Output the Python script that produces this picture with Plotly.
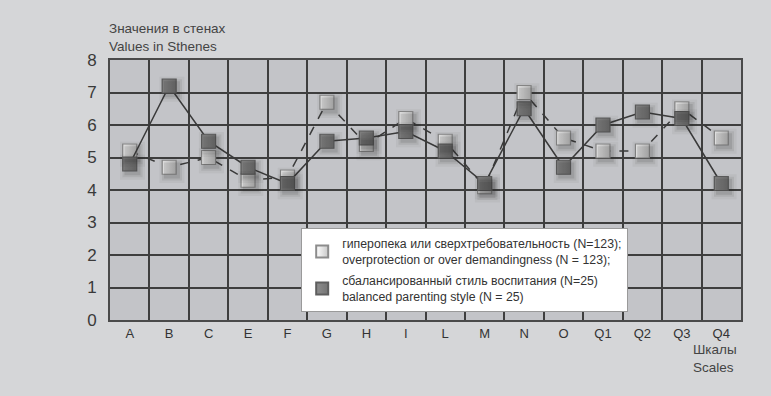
import plotly.graph_objects as go

categories = ["A", "B", "C", "E", "F", "G", "H", "I", "L", "M", "N", "O", "Q1", "Q2", "Q3", "Q4"]
overprotection = [5.2, 4.7, 5.0, 4.3, 4.4, 6.7, 5.4, 6.2, 5.5, 4.1, 7.0, 5.6, 5.2, 5.2, 6.5, 5.6]
balanced = [4.8, 7.2, 5.5, 4.7, 4.2, 5.5, 5.6, 5.8, 5.2, 4.2, 6.5, 4.7, 6.0, 6.4, 6.2, 4.2]
y_ticks = [0, 1, 2, 3, 4, 5, 6, 7, 8]

name_over = "гиперопека или сверхтребовательность (N=123);<br>overprotection or over demandingness (N = 123);"
name_bal = "сбалансированный стиль воспитания (N=25)<br>balanced parenting style (N = 25)"

FONT = "Liberation Sans, Arial, sans-serif"

white_marker = dict(symbol="square", size=14, color="#ffffff",
                    gradient=dict(type="horizontal", color="#c8c8c8"),
                    line=dict(color="#8c8c8c", width=1.2))
dark_marker = dict(symbol="square", size=14, color="#8e8e8e",
                   gradient=dict(type="horizontal", color="#747474"),
                   line=dict(color="#5e5e5e", width=1.2))

fig = go.Figure()
# soft shadows on a slightly offset overlay axis pair
for series in (overprotection, balanced):
    for size, op in ((25, 0.05), (20, 0.09), (16, 0.12)):
        fig.add_trace(go.Scatter(x=categories, y=series, mode="markers", xaxis="x2", yaxis="y2",
                                 marker=dict(symbol="square", size=size, color="rgba(40,40,40,%s)" % op,
                                             line=dict(width=0)),
                                 hoverinfo="skip", showlegend=False))
fig.add_trace(go.Scatter(x=categories, y=overprotection, mode="lines+markers",
                         line=dict(color="#3a3a3a", width=1.5, dash="dash"),
                         marker=white_marker, showlegend=False))
fig.add_trace(go.Scatter(x=categories, y=balanced, mode="lines+markers",
                         line=dict(color="#3a3a3a", width=1.5),
                         marker=dark_marker, showlegend=False))
# legend-only entries (marker only)
fig.add_trace(go.Scatter(x=[None], y=[None], mode="markers", name=name_over, marker=white_marker,
                         legendgroup="a"))
fig.add_trace(go.Scatter(x=[None], y=[None], mode="markers", name=name_bal, marker=dark_marker,
                         legendgroup="b"))

fig.update_layout(
    width=771, height=396,
    margin=dict(l=110, r=30, t=60, b=76),
    paper_bgcolor="#d5d6d8",
    plot_bgcolor="#c3c4c8",
    font=dict(family=FONT, size=13, color="#3a3a3a"),
    legend=dict(x=0.303, y=0.354, xanchor="left", yanchor="top",
                bgcolor="#ffffff", bordercolor="#9a9a9a", borderwidth=1,
                font=dict(family=FONT, size=12.3, color="#333333"),
                tracegroupgap=2, itemsizing="constant", itemwidth=30),
    annotations=[
        dict(text="Значения в стенах<br>Values in Sthenes", xref="paper", yref="paper",
             x=-0.005, y=1.0, xanchor="left", yanchor="bottom", showarrow=False, align="left",
             yshift=4, font=dict(family=FONT, size=13.5, color="#444444")),
        dict(text="Шкалы<br>Scales", xref="paper", yref="paper",
             x=0.92, y=0, xanchor="left", yanchor="top", showarrow=False, align="left",
             yshift=-20, font=dict(family=FONT, size=13.5, color="#444444")),
    ],
)
fig.update_xaxes(type="category", tickson="boundaries", showgrid=True, gridcolor="#3e3e3e", gridwidth=1.5,
                 showline=True, mirror=True, linecolor="#4a4a4a", linewidth=2,
                 ticks="", tickfont=dict(size=13, color="#333333"), range=[-0.5, 15.5])
fig.update_yaxes(range=[0, 8], tickvals=y_ticks, showgrid=True, gridcolor="#3e3e3e", gridwidth=1.5,
                 zeroline=False, showline=True, mirror=True, linecolor="#4a4a4a", linewidth=2,
                 ticks="", ticklabelstandoff=8, tickfont=dict(size=17, color="#3a3a3a"))
fig.update_layout(
    xaxis2=dict(type="category", overlaying="x", range=[-0.57, 15.43], visible=False, showgrid=False),
    yaxis2=dict(overlaying="y", range=[0.1, 8.1], visible=False, showgrid=False),
)

fig.write_html("out.html", config={"displayModeBar": False},
               post_script="document.body.style.margin='0';window.dispatchEvent(new Event('resize'));")
